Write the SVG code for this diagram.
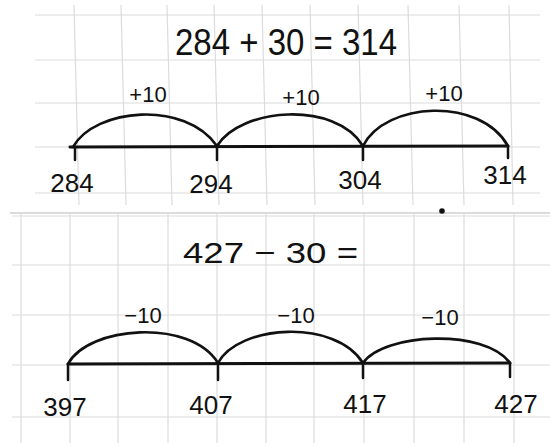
<svg xmlns="http://www.w3.org/2000/svg" width="550" height="443" viewBox="0 0 550 443">
<style>
.grid{stroke:#dcdcdc;stroke-width:1.2;fill:none}
.sep{stroke:#cfcfcf;stroke-width:1.5}
.axis{stroke:#111;stroke-width:3;fill:none;stroke-linecap:round}
.tick{stroke:#111;stroke-width:2.5;stroke-linecap:round}
.arc{stroke:#111;stroke-width:2.6;fill:none;stroke-linecap:round}
text{font-family:"Liberation Sans","DejaVu Sans",sans-serif;fill:#111}
.title{font-size:37px}
.title2{font-size:30px}
.num{font-size:26px;text-anchor:middle}
.step{font-size:22px;text-anchor:middle}
</style>
<rect width="550" height="443" fill="#fff"/>
<g id="grid-top" class="grid">
<path d="M35 15H540M35 60H540M35 103H540M35 147H540M35 193H540"/>
<path d="M74 5L79 205M121 5L126 205M167 5L172 205M214 5L219 205M262 5L267 205M310 5L315 205M358 5L363 205M408 5L413 205M459 5L464 205M509 5L513 205"/>
</g>
<line class="sep" x1="10" y1="213" x2="550" y2="213"/>
<g id="grid-bottom" class="grid">
<path d="M12 216H550M12 265H550M12 315H550M12 365H550M12 417H550"/>
<path d="M21 214V443M70 214V443M118 214V443M168 214V443M217 214V443M266 214V443M314 214V443M364 214V443M414 214V443M464 214V443M514 214V443"/>
</g>
<circle cx="442" cy="211" r="2.8" fill="#111"/>
<g id="title-top"><text class="title" x="175" y="55" textLength="222" lengthAdjust="spacingAndGlyphs">284 + 30 = 314</text></g>
<g id="title-bottom"><text class="title2" x="183" y="263" textLength="175" lengthAdjust="spacingAndGlyphs">427 − 30 =</text></g>
<g id="connectors">
<path class="axis" d="M70 147L508 146"/>
<path class="arc" d="M73 147C95 108 185 100 217 146"/>
<path class="arc" d="M217 146C240 108 335 100 363 146"/>
<path class="arc" d="M363 146C385 102 480 96 508 146"/>
<text class="step" x="148" y="102">+10</text>
<text class="step" x="301" y="105">+10</text>
<text class="step" x="444" y="101">+10</text>
<path class="axis" d="M68 364L510 363"/>
<path class="arc" d="M68 364C88 326 190 318 218 363"/>
<path class="arc" d="M218 363C238 325 335 318 363 363"/>
<path class="arc" d="M363 363C383 333 485 328 510 363"/>
<text class="step" x="143" y="323">−10</text>
<text class="step" x="296" y="323">−10</text>
<text class="step" x="440" y="325">−10</text>
</g>
<g id="n284"><line class="tick" x1="75" y1="147" x2="75" y2="160"/><text class="num" x="72" y="192">284</text></g>
<g id="n294"><line class="tick" x1="217" y1="146" x2="217" y2="160"/><text class="num" x="211" y="193">294</text></g>
<g id="n304"><line class="tick" x1="363" y1="146" x2="363" y2="160"/><text class="num" x="360" y="189">304</text></g>
<g id="n314"><line class="tick" x1="508" y1="146" x2="508" y2="158"/><text class="num" x="505" y="184">314</text></g>
<g id="n397"><line class="tick" x1="68" y1="364" x2="68" y2="380"/><text class="num" x="65" y="416">397</text></g>
<g id="n407"><line class="tick" x1="218" y1="363" x2="218" y2="380"/><text class="num" x="211" y="414">407</text></g>
<g id="n417"><line class="tick" x1="363" y1="363" x2="363" y2="378"/><text class="num" x="365" y="413">417</text></g>
<g id="n427"><line class="tick" x1="510" y1="363" x2="510" y2="377"/><text class="num" x="516" y="413">427</text></g>
</svg>
